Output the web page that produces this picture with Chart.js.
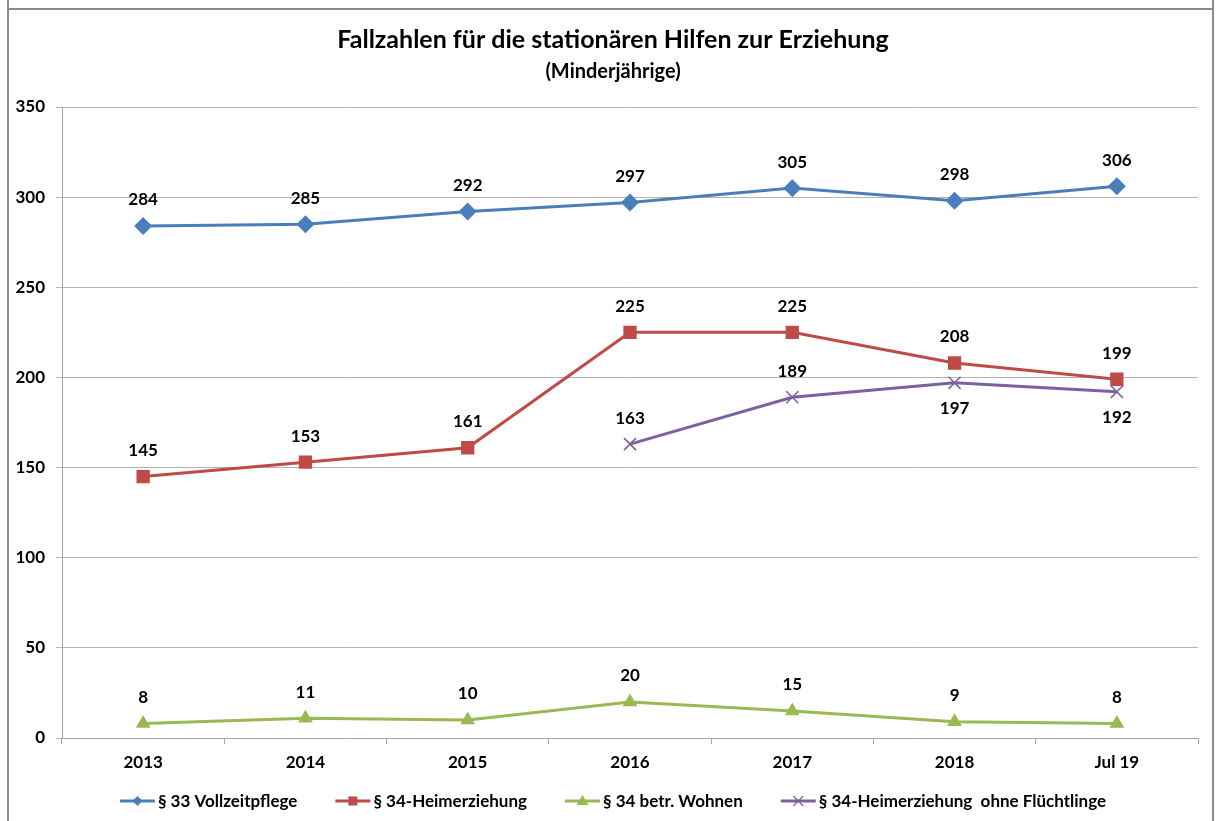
<!DOCTYPE html>
<html>
<head>
<meta charset="utf-8">
<script src="https://cdn.jsdelivr.net/npm/chart.js@4"></script>
<style>
  html, body { margin: 0; padding: 0; background: #fff; width: 1216px; height: 821px; overflow: hidden; }
  #wrap { position: absolute; left: 0; top: 0; width: 1216px; height: 821px; }
  #frameL { position: absolute; left: 7px; top: 0; width: 2px; height: 821px; background: #8a8a8a; }
  #frameR { position: absolute; left: 1212px; top: 0; width: 2px; height: 821px; background: #8a8a8a; }
  #frameT { position: absolute; left: 7px; top: 8px; width: 1207px; height: 2px; background: #8a8a8a; }
</style>
</head>
<body>
<div id="wrap"><canvas id="c" width="1216" height="821"></canvas></div>
<div id="frameL"></div><div id="frameR"></div><div id="frameT"></div>
<script>
const categories = ["2013", "2014", "2015", "2016", "2017", "2018", "Jul 19"];
const vollzeitpflege = [284, 285, 292, 297, 305, 298, 306];
const heimerziehung = [145, 153, 161, 225, 225, 208, 199];
const betrWohnen = [8, 11, 10, 20, 15, 9, 8];
const ohneFluechtlinge = [null, null, null, 163, 189, 197, 192];
const yTicks = [0, 50, 100, 150, 200, 250, 300, 350];
const seriesNames = ["§ 33 Vollzeitpflege", "§ 34-Heimerziehung", "§ 34 betr. Wohnen", "§ 34-Heimerziehung  ohne Flüchtlinge"];
const purpleLabelPos = ["above", "above", "above", "above", "above", "below", "below"];

const FONT = "Lato, 'Open Sans', sans-serif";
const colors = ["#4a7ebb", "#be4b48", "#98b954", "#7d60a0"];
const markerStyles = ['diamond', 'square', 'triangle', 'cross'];

function drawMarker(g, style, color, cx, cy) {
  g.fillStyle = color; g.strokeStyle = color;
  if (style === 'diamond') {
    g.beginPath(); g.moveTo(cx, cy - 5); g.lineTo(cx + 5, cy); g.lineTo(cx, cy + 5); g.lineTo(cx - 5, cy); g.closePath(); g.fill();
  } else if (style === 'square') {
    g.fillRect(cx - 4.5, cy - 4.5, 9, 9);
  } else if (style === 'triangle') {
    g.beginPath(); g.moveTo(cx, cy - 6); g.lineTo(cx + 6, cy + 4); g.lineTo(cx - 6, cy + 4); g.closePath(); g.fill();
  } else if (style === 'cross') {
    g.lineWidth = 1.2;
    g.beginPath(); g.moveTo(cx - 5, cy - 5); g.lineTo(cx + 5, cy + 5); g.moveTo(cx + 5, cy - 5); g.lineTo(cx - 5, cy + 5); g.stroke();
  }
}

const customLegend = {
  id: 'customLegend',
  afterDraw(chart) {
    const ctx = chart.ctx;
    ctx.save();
    ctx.font = "bold 17px " + FONT;
    ctx.textBaseline = "middle";
    ctx.textAlign = "left";
    const iconW = 35, iconGap = 3, itemGap = 38;
    const widths = chart.data.datasets.map(ds => iconW + iconGap + ctx.measureText(ds.label).width);
    const total = widths.reduce((a, b) => a + b, 0) + itemGap * (widths.length - 1);
    let x = 613 - total / 2;
    const y = 801;
    chart.data.datasets.forEach((ds, i) => {
      ctx.strokeStyle = colors[i]; ctx.lineWidth = 3;
      ctx.beginPath(); ctx.moveTo(x, y); ctx.lineTo(x + iconW, y); ctx.stroke();
      drawMarker(ctx, markerStyles[i], colors[i], x + iconW / 2, y);
      ctx.fillStyle = "#000";
      ctx.fillText(ds.label, x + iconW + iconGap, y + 1);
      x += widths[i] + itemGap;
    });
    ctx.restore();
  }
};

const dataLabelPlugin = {
  id: 'dataLabels',
  afterDatasetsDraw(chart) {
    const ctx = chart.ctx;
    ctx.save();
    ctx.font = "bold 17px " + FONT;
    ctx.fillStyle = "#000";
    ctx.textAlign = "center";
    ctx.textBaseline = "middle";
    chart.data.datasets.forEach((ds, di) => {
      const meta = chart.getDatasetMeta(di);
      meta.data.forEach((pt, i) => {
        const v = ds.data[i];
        if (v === null || v === undefined) return;
        let pos = 'above';
        if (di === 3) pos = purpleLabelPos[i];
        const y = pos === 'above' ? pt.y - 26 : pt.y + 26;
        ctx.fillText(String(v), pt.x, y);
      });
    });
    ctx.restore();
  }
};

const lineW = 3;
new Chart(document.getElementById('c'), {
  type: 'line',
  data: {
    labels: categories,
    datasets: [
      { label: seriesNames[0], data: vollzeitpflege, borderColor: colors[0], backgroundColor: colors[0], borderWidth: lineW,
        pointStyle: 'rectRot', pointRadius: 9, pointBorderWidth: 0, tension: 0 },
      { label: seriesNames[1], data: heimerziehung, borderColor: colors[1], backgroundColor: colors[1], borderWidth: lineW,
        pointStyle: 'rect', pointRadius: 9.4, pointBorderWidth: 0, tension: 0 },
      { label: seriesNames[2], data: betrWohnen, borderColor: colors[2], backgroundColor: colors[2], borderWidth: lineW,
        pointStyle: 'triangle', pointRadius: 8.5, pointBorderWidth: 0, tension: 0 },
      { label: seriesNames[3], data: ohneFluechtlinge, borderColor: colors[3], backgroundColor: colors[3], borderWidth: lineW,
        pointStyle: 'crossRot', pointRadius: 8.5, pointBorderWidth: 1.5, pointBorderColor: colors[3], tension: 0, spanGaps: false }
    ]
  },
  options: {
    responsive: false,
    animation: false,
    devicePixelRatio: 1,
    layout: { padding: { left: 10, right: 0, top: 10, bottom: 49 } },
    plugins: {
      title: { display: true, text: "Fallzahlen für die stationären Hilfen zur Erziehung", color: "#000",
        font: { family: FONT, size: 25, weight: 'bold' }, padding: { top: 15, bottom: 0 } },
      subtitle: { display: true, text: "(Minderjährige)", color: "#000",
        font: { family: FONT, size: 20, weight: 'bold' }, padding: { top: 5, bottom: 23 } },
      legend: { display: false },
      tooltip: { enabled: false }
    },
    scales: {
      x: {
        offset: true,
        afterFit(scale) { scale.height = 34; },
        grid: { display: true, drawOnChartArea: false, drawTicks: true, tickLength: 6, offset: true, color: "#a6a6a6" },
        border: { display: true, color: "#a6a6a6", width: 1 },
        ticks: { color: "#000", font: { family: FONT, size: 17, weight: 'bold' }, padding: 8, maxRotation: 0 }
      },
      y: {
        min: 0, max: 350,
        afterBuildTicks(scale) { scale.ticks = yTicks.map(v => ({ value: v })); },
        afterFit(scale) { scale.width = 52; },
        grid: { color: "#b3b3b3", lineWidth: 1, tickLength: 6, drawTicks: true },
        border: { display: true, color: "#a6a6a6", width: 1 },
        ticks: { color: "#000", font: { family: FONT, size: 17, weight: 'bold' }, padding: 11 }
      },
      yRight: {
        position: 'right',
        min: 0, max: 350,
        afterFit(scale) { scale.width = 18; },
        grid: { display: false, drawOnChartArea: false, drawTicks: false },
        border: { display: false },
        ticks: { display: false }
      }
    }
  },
  plugins: [dataLabelPlugin, customLegend]
});
</script>
</body>
</html>
